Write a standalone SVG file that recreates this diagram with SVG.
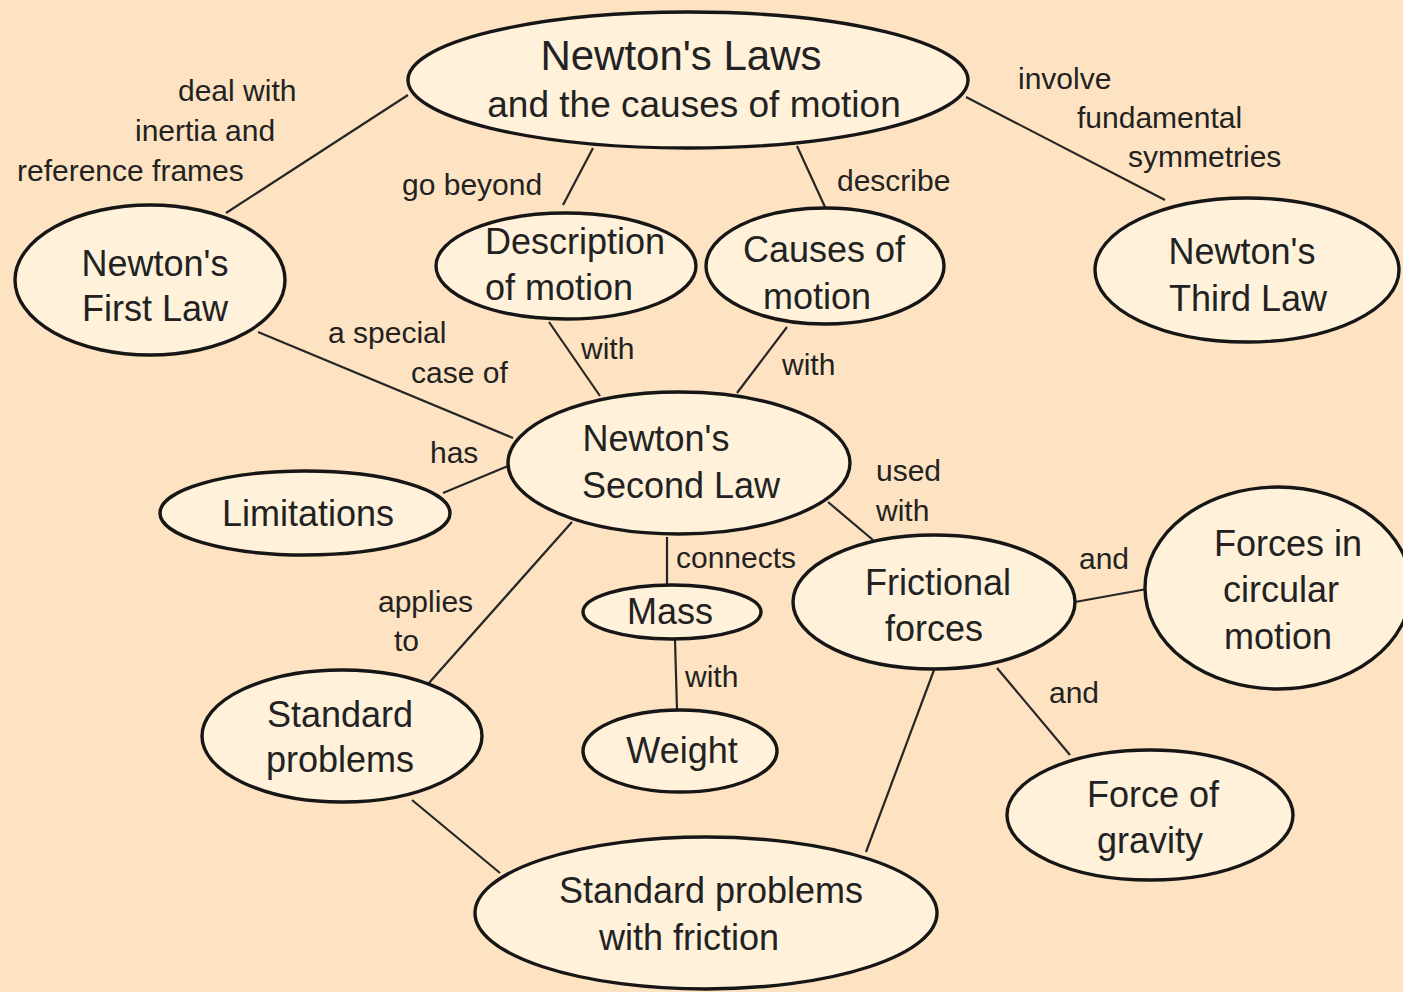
<svg xmlns="http://www.w3.org/2000/svg" width="1403" height="992" viewBox="0 0 1403 992">
  <style>
    .node ellipse { fill: #fff1da; stroke: #161616; stroke-width: 3.4; }
    .node text { font-family: "Liberation Sans", Arial, sans-serif; font-size: 36px; fill: #222; text-anchor: middle; }
    .links line { stroke: #262626; stroke-width: 2.2; }
    .lbl { font-family: "Liberation Sans", Arial, sans-serif; font-size: 30px; fill: #222; }
  </style>
  <rect width="1403" height="992" fill="#fde3c1"/>

  <!-- connectors -->
  <g class="links">
    <line x1="408" y1="95" x2="226" y2="213"/>
    <line x1="593" y1="148" x2="563" y2="205"/>
    <line x1="797" y1="146" x2="825" y2="207"/>
    <line x1="966" y1="97" x2="1165" y2="200"/>
    <line x1="258" y1="332" x2="513" y2="438"/>
    <line x1="549" y1="322" x2="600" y2="396"/>
    <line x1="787" y1="327" x2="737" y2="393"/>
    <line x1="443" y1="493" x2="508" y2="466"/>
    <line x1="828" y1="502" x2="873" y2="540"/>
    <line x1="667" y1="537" x2="667" y2="584"/>
    <line x1="675" y1="640" x2="677" y2="710"/>
    <line x1="572" y1="522" x2="428" y2="684"/>
    <line x1="1075" y1="602" x2="1147" y2="589"/>
    <line x1="997" y1="668" x2="1070" y2="755"/>
    <line x1="934" y1="670" x2="866" y2="852"/>
    <line x1="412" y1="800" x2="500" y2="873"/>
  </g>

  <!-- connector labels -->
  <g class="labels">
    <text class="lbl" x="178" y="101">deal with</text>
    <text class="lbl" x="135" y="141">inertia and</text>
    <text class="lbl" x="17" y="181">reference frames</text>
    <text class="lbl" x="402" y="195">go beyond</text>
    <text class="lbl" x="837" y="191">describe</text>
    <text class="lbl" x="1018" y="89">involve</text>
    <text class="lbl" x="1077" y="128">fundamental</text>
    <text class="lbl" x="1128" y="167">symmetries</text>
    <text class="lbl" x="328" y="343">a special</text>
    <text class="lbl" x="411" y="383">case of</text>
    <text class="lbl" x="581" y="359">with</text>
    <text class="lbl" x="782" y="375">with</text>
    <text class="lbl" x="430" y="463">has</text>
    <text class="lbl" x="876" y="481">used</text>
    <text class="lbl" x="876" y="521">with</text>
    <text class="lbl" x="676" y="568">connects</text>
    <text class="lbl" x="378" y="612">applies</text>
    <text class="lbl" x="394" y="651">to</text>
    <text class="lbl" x="685" y="687">with</text>
    <text class="lbl" x="1079" y="569">and</text>
    <text class="lbl" x="1049" y="703">and</text>
  </g>

  <!-- concept nodes -->
  <g id="newtons-laws" class="node">
    <ellipse cx="688" cy="80" rx="280" ry="68"/>
    <text x="681" y="70" style="font-size:42px">Newton's Laws</text>
    <text x="694" y="117" style="font-size:37px">and the causes of motion</text>
  </g>
  <g id="first-law" class="node">
    <ellipse cx="150" cy="280" rx="135" ry="75"/>
    <text x="155" y="276">Newton's</text>
    <text x="155" y="321">First Law</text>
  </g>
  <g id="description" class="node">
    <ellipse cx="566" cy="266" rx="130" ry="53"/>
    <text x="575" y="254">Description</text>
    <text x="559" y="300">of motion</text>
  </g>
  <g id="causes" class="node">
    <ellipse cx="825" cy="266" rx="119" ry="58"/>
    <text x="824" y="262">Causes of</text>
    <text x="817" y="309">motion</text>
  </g>
  <g id="third-law" class="node">
    <ellipse cx="1247" cy="270" rx="152" ry="72"/>
    <text x="1242" y="264">Newton's</text>
    <text x="1248" y="311">Third Law</text>
  </g>
  <g id="second-law" class="node">
    <ellipse cx="679" cy="463" rx="171" ry="71"/>
    <text x="656" y="451">Newton's</text>
    <text x="681" y="498">Second Law</text>
  </g>
  <g id="limitations" class="node">
    <ellipse cx="305" cy="513" rx="145" ry="42"/>
    <text x="308" y="526">Limitations</text>
  </g>
  <g id="mass" class="node">
    <ellipse cx="672" cy="612" rx="89" ry="27"/>
    <text x="670" y="624">Mass</text>
  </g>
  <g id="frictional" class="node">
    <ellipse cx="934" cy="602" rx="141" ry="67"/>
    <text x="938" y="595">Frictional</text>
    <text x="934" y="641">forces</text>
  </g>
  <g id="circular" class="node">
    <ellipse cx="1278" cy="588" rx="133" ry="101"/>
    <text x="1288" y="556">Forces in</text>
    <text x="1281" y="602">circular</text>
    <text x="1278" y="649">motion</text>
  </g>
  <g id="standard" class="node">
    <ellipse cx="342" cy="736" rx="140" ry="66"/>
    <text x="340" y="727">Standard</text>
    <text x="340" y="772">problems</text>
  </g>
  <g id="weight" class="node">
    <ellipse cx="680" cy="751" rx="97" ry="41"/>
    <text x="682" y="763">Weight</text>
  </g>
  <g id="gravity" class="node">
    <ellipse cx="1150" cy="815" rx="143" ry="65"/>
    <text x="1153" y="807">Force of</text>
    <text x="1150" y="853">gravity</text>
  </g>
  <g id="standard-friction" class="node">
    <ellipse cx="706" cy="913" rx="231" ry="76"/>
    <text x="711" y="903">Standard problems</text>
    <text x="689" y="950">with friction</text>
  </g>
</svg>
